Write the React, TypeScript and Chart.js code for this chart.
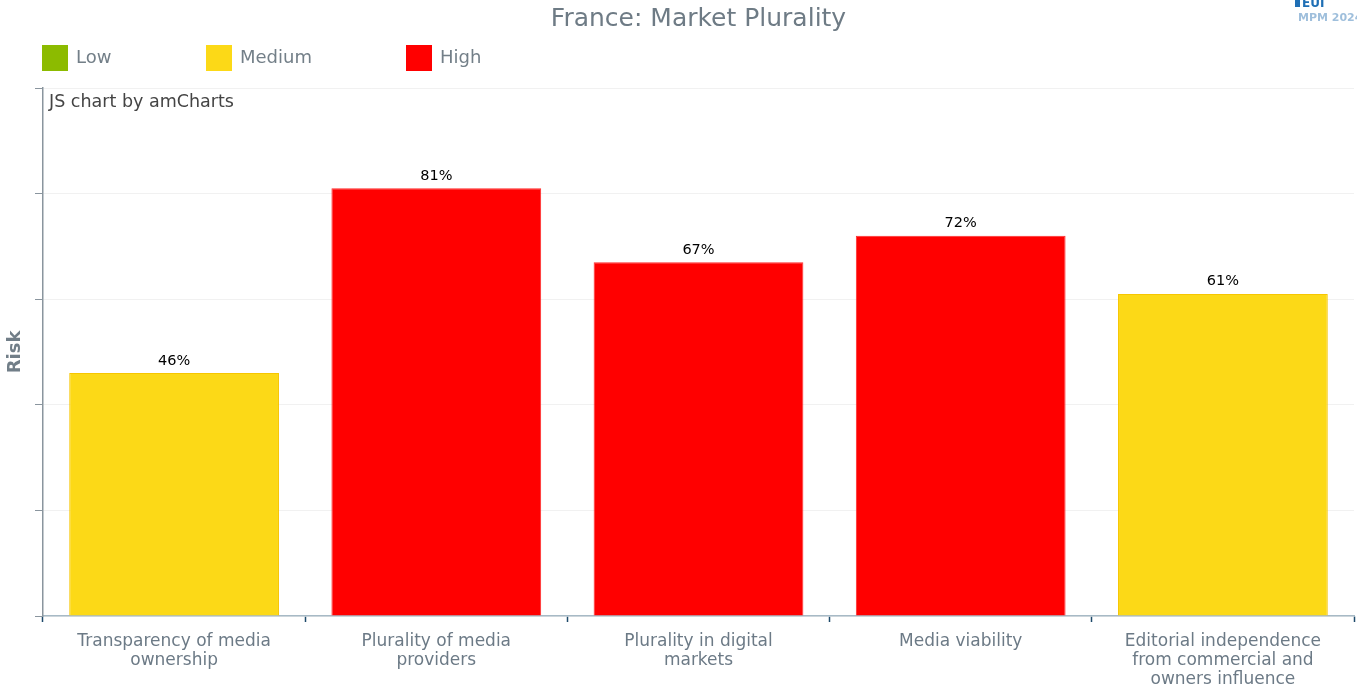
import React, { useEffect, useRef } from "react";
import { Chart, registerables } from "chart.js";

Chart.register(...registerables);

const categories: (string | string[])[] = [
  ["Transparency of media", "ownership"],
  ["Plurality of media", "providers"],
  ["Plurality in digital", "markets"],
  "Media viability",
  ["Editorial independence", "from commercial and", "owners influence"],
];
const riskValues = [46, 81, 67, 72, 61];
const riskLevels = ["Medium", "High", "High", "High", "Medium"];
const legendNames = ["Low", "Medium", "High"];
const legendColors = ["#8cbb00", "#fcd917", "#ff0000"];
const yTicks = [0, 20, 40, 60, 80, 100];

const FONT = "'DejaVu Sans', Verdana, sans-serif";
const colorFor = (lvl: string) => legendColors[legendNames.indexOf(lvl)];
const borderFor = (lvl: string) => (lvl === "Medium" ? "#f7c600" : "#ff2a2a");

const overlayPlugin = {
  id: "overlay",
  afterDraw(chart: any) {
    const ctx = chart.ctx;
    const area = chart.chartArea;
    ctx.save();
    // Title
    ctx.fillStyle = "#6e7b85";
    ctx.font = `25px ${FONT}`;
    ctx.textAlign = "center";
    ctx.textBaseline = "middle";
    ctx.fillText("France: Market Plurality", (area.left + area.right) / 2, 19);

    // Legend
    const legendX = [42, 206, 406];
    ctx.font = `18px ${FONT}`;
    ctx.textAlign = "left";
    legendNames.forEach((name, i) => {
      ctx.fillStyle = legendColors[i];
      ctx.fillRect(legendX[i], 45, 26, 26);
      ctx.fillStyle = "#737f88";
      ctx.fillText(name, legendX[i] + 34, 58);
    });

    // credit
    ctx.fillStyle = "#444444";
    ctx.font = `17.5px ${FONT}`;
    ctx.fillText("JS chart by amCharts", area.left + 6, 102);

    // logo fragment
    ctx.fillStyle = "#1f6fb5";
    ctx.fillRect(1295, 0, 5, 7);
    ctx.font = `bold 12px ${FONT}`;
    ctx.textBaseline = "alphabetic";
    ctx.fillText("EUI", 1302, 7);
    ctx.fillStyle = "#9fbfdc";
    ctx.font = `bold 11px ${FONT}`;
    ctx.fillText("MPM 2024", 1298, 21);

    // value labels
    const meta = chart.getDatasetMeta(0);
    ctx.fillStyle = "#000000";
    ctx.font = `14.5px ${FONT}`;
    ctx.textAlign = "center";
    ctx.textBaseline = "bottom";
    meta.data.forEach((bar: any, i: number) => {
      ctx.fillText(`${riskValues[i]}%`, bar.x, bar.y - 5);
    });
    ctx.restore();
  },
};

export default function App() {
  const ref = useRef<HTMLCanvasElement | null>(null);
  useEffect(() => {
    document.body.style.margin = "0";
    const chart = new Chart(ref.current as HTMLCanvasElement, {
      type: "bar",
      data: {
        labels: categories,
        datasets: [
          {
            label: "Risk",
            data: riskValues,
            backgroundColor: riskLevels.map(colorFor),
            borderColor: riskLevels.map(borderFor),
            borderWidth: 1,
            barPercentage: 0.8,
            categoryPercentage: 1,
          },
        ],
      },
      options: {
        animation: false,
        responsive: false,
        maintainAspectRatio: false,
        layout: { padding: { top: 88, right: 3, left: 0, bottom: 0 } },
        plugins: {
          legend: { display: false },
          title: { display: false },
          tooltip: { enabled: false },
        },
        scales: {
          x: {
            afterFit: (s: any) => {
              s.height = 70;
            },
            grid: {
              drawOnChartArea: false,
              offset: true,
              tickLength: 6,
              tickColor: "#1d4a6b",
              tickWidth: 1.5,
            },
            border: { color: "#a7bac6", width: 1.5 },
            ticks: {
              color: "#6c7a86",
              font: { family: FONT, size: 17, lineHeight: 1.12 },
              padding: 10,
              maxRotation: 0,
              autoSkip: false,
            },
          },
          y: {
            min: 0,
            max: 100,
            z: 1,
            afterFit: (s: any) => {
              s.width = 43;
            },
            afterBuildTicks: (s: any) => {
              s.ticks = yTicks.map((v) => ({ value: v }));
            },
            grid: {
              color: "rgba(225,225,225,0.45)",
              tickLength: 8,
              tickColor: "#8a959e",
            },
            border: { color: "#8a959e", width: 1.5 },
            ticks: { display: false },
            title: {
              display: true,
              text: "Risk",
              color: "#717e88",
              font: { family: FONT, size: 18, weight: "bold" },
              padding: { top: 5, bottom: 0 },
            },
          },
        },
      },
      plugins: [overlayPlugin],
    } as any);
    return () => chart.destroy();
  }, []);
  return (
    <div style={{ width: 1357, height: 686 }}>
      <canvas ref={ref} width={1357} height={686} style={{ display: "block" }} />
    </div>
  );
}
